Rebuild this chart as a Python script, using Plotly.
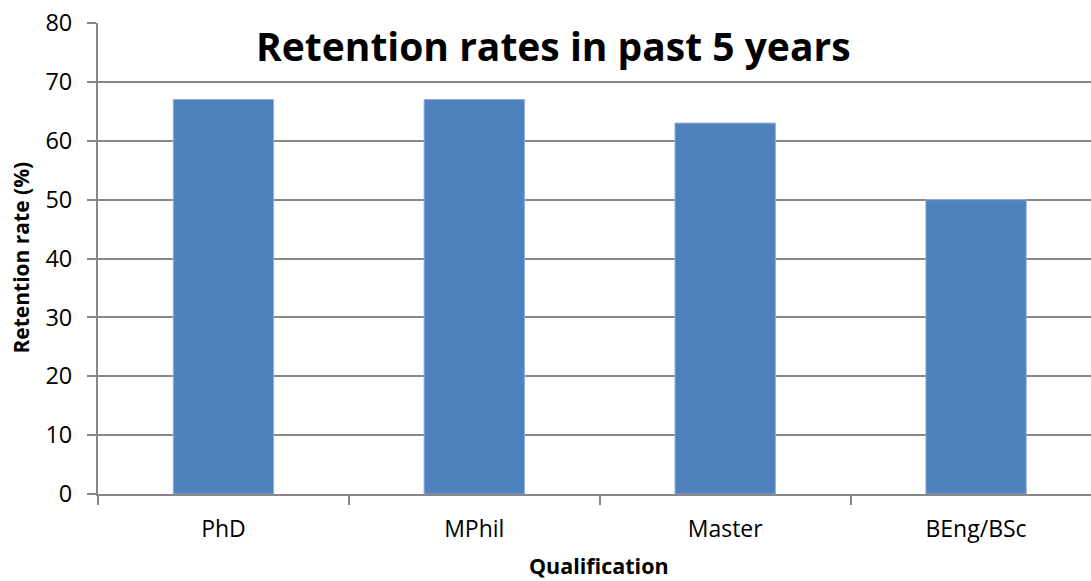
import plotly.graph_objects as go

categories = ["PhD", "MPhil", "Master", "BEng/BSc"]
retention = [67, 67, 63, 50]
y_ticks = [0, 10, 20, 30, 40, 50, 60, 70, 80]

W, H = 1091, 581
L, T, B = 97.5, 22.5, 86.5
plot_w = W - L
cat_w = 251.0
x_hi = -0.5 + plot_w / cat_w

FONT = "'Open Sans', sans-serif"
GRID = "#878787"

fig = go.Figure()
fig.add_trace(go.Bar(
    x=categories, y=retention, width=0.4,
    marker=dict(color="#4F81BD", line=dict(color="#8FB0DC", width=1)),
    hoverinfo="x+y",
))

fig.update_layout(
    width=W, height=H,
    margin=dict(l=L, r=0, t=T, b=B, pad=0),
    paper_bgcolor="white", plot_bgcolor="white",
    showlegend=False,
    font=dict(family=FONT, color="#000000", size=22),
    xaxis=dict(
        type="category", range=[-0.5, x_hi],
        showline=True, linecolor=GRID, linewidth=2,
        ticks="outside", tickson="boundaries", ticklen=9, tickcolor=GRID, tickwidth=2,
        tickfont=dict(family=FONT, size=23), ticklabelstandoff=13,
        showgrid=False, zeroline=False,
    ),
    yaxis=dict(
        range=[0, 80], tickvals=y_ticks,
        showline=True, linecolor=GRID, linewidth=2,
        ticks="outside", ticklen=9, tickcolor=GRID, tickwidth=2,
        tickfont=dict(family=FONT, size=23.5), ticklabelstandoff=10,
        showgrid=True, gridcolor=GRID, gridwidth=2,
        zeroline=False,
    ),
    annotations=[
        dict(text="<b>Retention rates in past 5 years</b>", xref="paper", yref="paper",
             x=(553 - L) / plot_w, y=1 - (45 - T) / (H - T - B), xanchor="center", yanchor="middle",
             showarrow=False, font=dict(family=FONT, size=39, color="#000")),
        dict(text="<b>Retention rate (%)</b>", xref="paper", yref="paper",
             x=(20 - L) / plot_w, y=1 - (258 - T) / (H - T - B), xanchor="center", yanchor="middle",
             textangle=-90, showarrow=False, font=dict(family=FONT, size=21, color="#000")),
        dict(text="<b>Qualification</b>", xref="paper", yref="paper",
             x=(599 - L) / plot_w, y=1 - (566 - T) / (H - T - B), xanchor="center", yanchor="middle",
             showarrow=False, font=dict(family=FONT, size=21.5, color="#000")),
    ],
)

fig.write_html("out.html", config={"displayModeBar": False},
               post_script="document.body.style.margin='0px';document.body.style.overflow='hidden';")
